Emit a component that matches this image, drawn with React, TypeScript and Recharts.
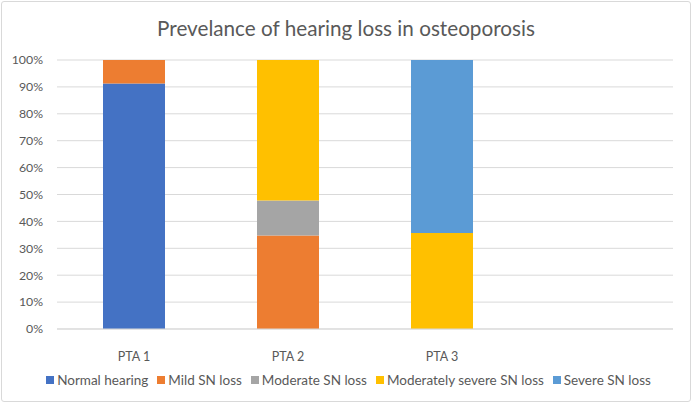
import React from "react";
import { BarChart, Bar, XAxis, YAxis, CartesianGrid, Legend } from "recharts";

const categories = ["PTA 1", "PTA 2", "PTA 3", ""];
const normalHearing = [91.3, 0, 0, null];
const mildSN = [8.7, 34.8, 0, null];
const moderateSN = [0, 13.0, 0, null];
const modSevereSN = [0, 52.2, 35.7, null];
const severeSN = [0, 0, 64.3, null];
const yTicks = [0, 10, 20, 30, 40, 50, 60, 70, 80, 90, 100];

const seriesNames = [
  "Normal hearing",
  "Mild SN loss",
  "Moderate SN loss",
  "Moderately severe SN loss",
  "Severe SN loss",
];
const colors = ["#4472C4", "#ED7D31", "#A5A5A5", "#FFC000", "#5B9BD5"];

const data = categories.map((c, i) => ({
  name: c,
  s0: normalHearing[i],
  s1: mildSN[i],
  s2: moderateSN[i],
  s3: modSevereSN[i],
  s4: severeSN[i],
}));

const FONT = "Lato, 'Liberation Sans', sans-serif";

const LegendContent = () => (
  <div
    style={{
      display: "flex",
      justifyContent: "center",
      alignItems: "center",
      height: 20,
      fontSize: 13.5,
      fontFamily: FONT,
      color: "#595959",
      whiteSpace: "nowrap",
      paddingLeft: 24,
    }}
  >
    {seriesNames.map((n, i) => (
      <span
        key={n}
        style={{ display: "inline-flex", alignItems: "center", marginRight: i < seriesNames.length - 1 ? 9 : 0 }}
      >
        <span
          style={{
            display: "inline-block",
            width: 8,
            height: 8,
            background: colors[i],
            marginRight: 3,
          }}
        />
        {n}
      </span>
    ))}
  </div>
);

export default function App() {
  return (
    <div
      style={{
        position: "absolute",
        left: 0,
        top: 0,
        width: 692,
        height: 405,
        background: "#fff",
        fontFamily: FONT,
      }}
    >
      <div
        style={{
          position: "absolute",
          left: 1,
          top: 1,
          width: 688,
          height: 399,
          border: "1px solid #D9D9D9",
          borderRadius: 3,
        }}
      />
      <div
        style={{
          position: "absolute",
          left: 0,
          top: 15,
          width: 692,
          textAlign: "center",
          fontSize: 20.7,
          color: "#595959",
          lineHeight: "26px",
        }}
      >
        Prevelance of hearing loss in osteoporosis
      </div>
      <BarChart
        width={692}
        height={405}
        data={data}
        margin={{ top: 60, right: 19, bottom: 22, left: 0 }}
        barSize={62}
        style={{ position: "absolute", left: 0, top: 0 }}
      >
        <CartesianGrid vertical={false} stroke="#D9D9D9" strokeWidth={1} />
        <XAxis
          dataKey="name"
          tickLine={false}
          axisLine={{ stroke: "#D9D9D9" }}
          tick={{ fill: "#595959", fontSize: 12.5, fontFamily: FONT }}
          tickMargin={17}
          height={34}
        />
        <YAxis
          domain={[0, 100]}
          ticks={yTicks}
          tickFormatter={(v: number) => `${v}%`}
          axisLine={false}
          tickLine={false}
          width={57}
          tickMargin={8}
          tick={{ fill: "#595959", fontSize: 12.3, fontFamily: FONT }}
          interval={0}
        />
        <Legend
          verticalAlign="bottom"
          height={20}
          content={<LegendContent />}
          wrapperStyle={{ bottom: 15 }}
        />
        {seriesNames.map((n, i) => (
          <Bar
            key={n}
            dataKey={`s${i}`}
            name={n}
            stackId="a"
            fill={colors[i]}
            isAnimationActive={false}
          />
        ))}
      </BarChart>
    </div>
  );
}
